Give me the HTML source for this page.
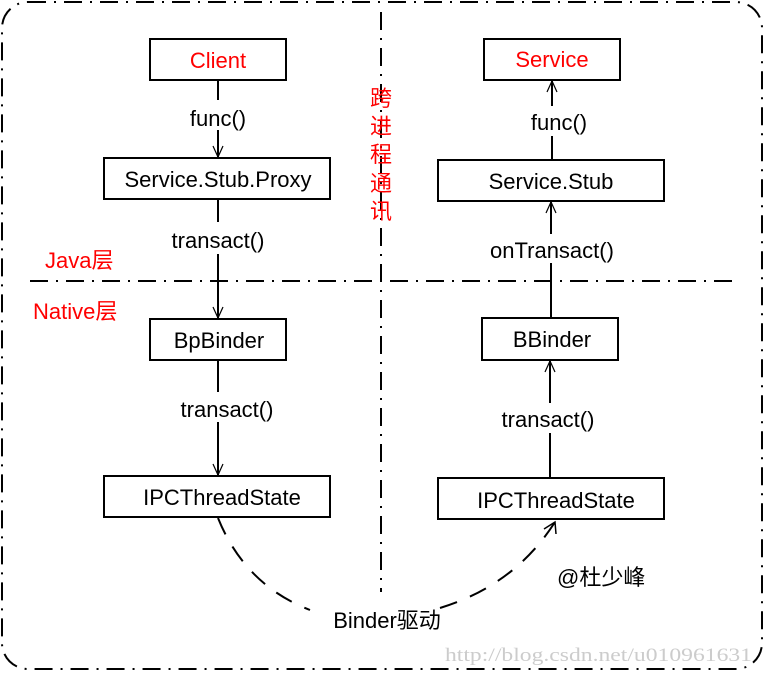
<!DOCTYPE html>
<html><head><meta charset="utf-8"><style>
html,body{margin:0;padding:0;background:#fff;}
svg{display:block;}
text{font-family:"Liberation Sans","Noto Sans CJK SC",sans-serif;font-size:22px;}
</style></head><body>
<svg width="765" height="675" viewBox="0 0 765 675" xmlns="http://www.w3.org/2000/svg">
<g fill="none" stroke="#000" stroke-width="2">
<rect x="2" y="2" width="760" height="667" rx="26" stroke-dasharray="18,8,2,8"/>
<line x1="381" y1="12" x2="381" y2="592" stroke-dasharray="18,8,2,8"/>
<line x1="30" y1="281" x2="735" y2="281" stroke-dasharray="18,8,2,8"/>
<rect x="150" y="39" width="136" height="41"/>
<rect x="104" y="158" width="226" height="41"/>
<rect x="150" y="319" width="136" height="41"/>
<rect x="104" y="476" width="226" height="41"/>
<rect x="484" y="39" width="136" height="41"/>
<rect x="438" y="160" width="226" height="41"/>
<rect x="482" y="318" width="136" height="42"/>
<rect x="438" y="478" width="226" height="41"/>
</g>
<g stroke="#000" stroke-width="2" fill="none">
<line x1="218" y1="80" x2="218" y2="100"/><line x1="218" y1="130" x2="218" y2="157"/>
<polyline points="213,146 218,157 223,146" stroke-width="1.2"/>
<line x1="218" y1="199" x2="218" y2="222"/><line x1="218" y1="254" x2="218" y2="318"/>
<polyline points="213,307 218,318 223,307" stroke-width="1.2"/>
<line x1="218" y1="360" x2="218" y2="392"/><line x1="218" y1="422" x2="218" y2="475"/>
<polyline points="213,464 218,475 223,464" stroke-width="1.2"/>
<line x1="552" y1="81" x2="552" y2="106"/><line x1="552" y1="136" x2="552" y2="160"/>
<polyline points="547,92 552,81 557,92" stroke-width="1.2"/>
<line x1="551" y1="202" x2="551" y2="234"/><line x1="551" y1="263" x2="551" y2="318"/>
<polyline points="546,213 551,202 556,213" stroke-width="1.2"/>
<line x1="550" y1="361" x2="550" y2="403"/><line x1="550" y1="433" x2="550" y2="478"/>
<polyline points="545,372 550,361 555,372" stroke-width="1.2"/>
<path d="M218,518 Q245,585 310,610 M440,608 Q515,585 555,522" stroke-dasharray="18,14"/>
<polyline points="544,529 555,522 556,534" stroke-width="1.5"/>
</g>
<g text-anchor="middle">
<text x="218" y="68" fill="#f00">Client</text>
<text x="552" y="67" fill="#f00">Service</text>
<text x="218" y="187">Service.Stub.Proxy</text>
<text x="551" y="189">Service.Stub</text>
<text x="219" y="348">BpBinder</text>
<text x="552" y="347">BBinder</text>
<text x="222" y="505">IPCThreadState</text>
<text x="556" y="508">IPCThreadState</text>
<text x="218" y="126">func()</text>
<text x="559" y="130">func()</text>
<text x="218" y="248">transact()</text>
<text x="227" y="417">transact()</text>
<text x="552" y="258">onTransact()</text>
<text x="548" y="427">transact()</text>
<text x="387" y="628">Binder驱动</text>
</g>
<text x="45" y="268" fill="#f00">Java层</text>
<text x="33" y="319" fill="#f00">Native层</text>
<g fill="#f00" text-anchor="middle">
<text x="381" y="106">跨</text><text x="381" y="134">进</text><text x="381" y="162">程</text><text x="381" y="191">通</text><text x="381" y="219">讯</text>
</g>
<text x="557" y="585">@杜少峰</text>
<text x="445" y="661" fill="#ccc" textLength="307" lengthAdjust="spacingAndGlyphs" style="font-family:'Liberation Serif',serif;font-size:19px">http://blog.csdn.net/u010961631</text>
</svg>
</body></html>
